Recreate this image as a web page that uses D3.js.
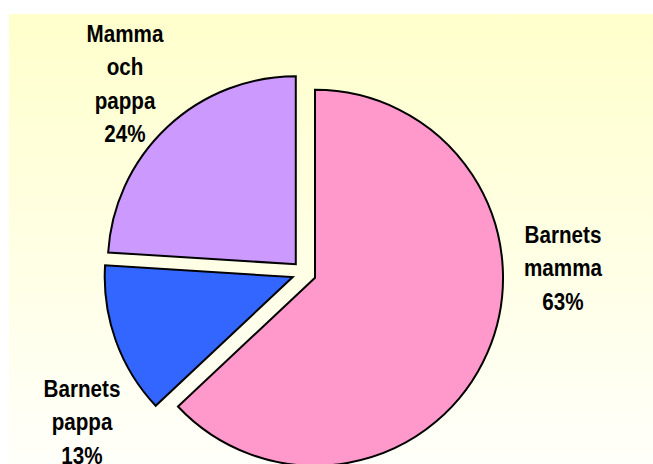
<!DOCTYPE html>
<html>
<head>
<meta charset="utf-8">
<script src="https://cdn.jsdelivr.net/npm/d3@7"></script>
<style>
  body { margin: 0; background: #ffffff; }
  svg { display: block; }
</style>
</head>
<body>
<div id="chart"></div>
<script>
// chart data
var categories = ["Barnets mamma", "Barnets pappa", "Mamma och pappa"];
var values = [63, 13, 24];
var colors = ["#FF99CC", "#3366FF", "#CC99FF"];
var labelLines = [["Barnets", "mamma", "63%"], ["Barnets", "pappa", "13%"], ["Mamma", "och", "pappa", "24%"]];

// label centre positions (layout only)
var labelPos = [[563, 243], [82, 397], [125, 42]];

var width = 653, height = 464;
var cx = 304, cy = 273, radius = 188, explode = 12;

var svg = d3.select("#chart").append("svg")
    .attr("width", width)
    .attr("height", height);

var defs = svg.append("defs");
var grad = defs.append("linearGradient")
    .attr("id", "bg")
    .attr("x1", 0).attr("y1", 0)
    .attr("x2", 0).attr("y2", 1);
grad.append("stop").attr("offset", "0%").attr("stop-color", "#FFFFCC");
grad.append("stop").attr("offset", "100%").attr("stop-color", "#FFFFFA");

svg.append("rect")
    .attr("x", 9)
    .attr("y", 14)
    .attr("width", width - 9)
    .attr("height", height - 14)
    .style("fill", "url(#bg)");

var pie = d3.pie().sort(null).value(function (d) { return d; });
var arcs = pie(values);

var arc = d3.arc().innerRadius(0).outerRadius(radius);

var g = svg.append("g").attr("transform", "translate(" + cx + "," + cy + ")");

g.selectAll("path")
    .data(arcs)
    .enter()
    .append("path")
    .attr("d", arc)
    .attr("transform", function (d) {
        var mid = (d.startAngle + d.endAngle) / 2;
        return "translate(" + (Math.sin(mid) * explode) + "," + (-Math.cos(mid) * explode) + ")";
    })
    .style("fill", function (d, i) { return colors[i]; })
    .style("stroke", "#000000")
    .style("stroke-width", 2)
    .style("stroke-linejoin", "miter");

// labels: condensed look via horizontal scale
var lineH = 33.5;
labelLines.forEach(function (lines, i) {
    var t = svg.append("text")
        .attr("transform", "translate(" + labelPos[i][0] + "," + labelPos[i][1] + ") scale(0.86,1)")
        .attr("text-anchor", "middle")
        .style("font-family", "'Liberation Sans', Arial, sans-serif")
        .style("font-weight", "bold")
        .style("font-size", "24px")
        .style("fill", "#000000");
    lines.forEach(function (l, j) {
        t.append("tspan")
            .attr("x", 0)
            .attr("dy", j === 0 ? 0 : lineH)
            .text(l);
    });
});
</script>
</body>
</html>
